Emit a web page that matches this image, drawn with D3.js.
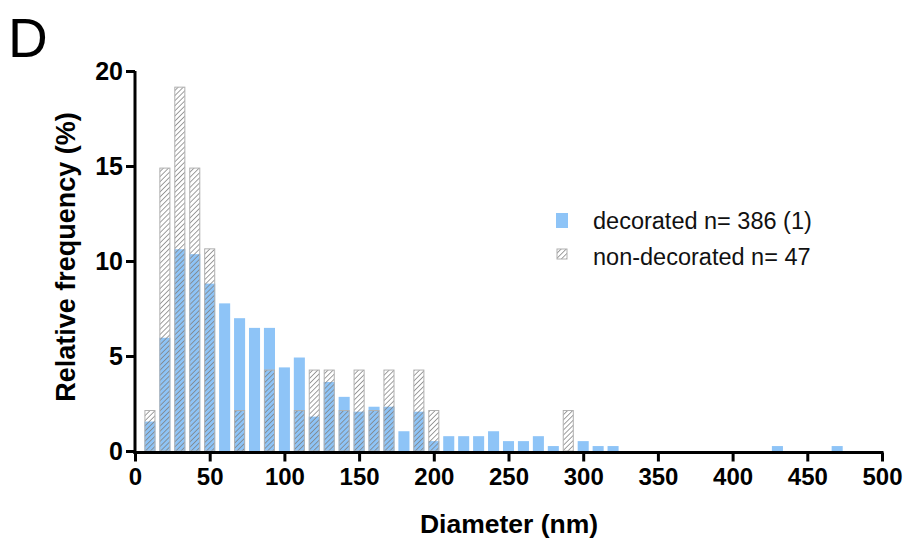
<!DOCTYPE html>
<html>
<head>
<meta charset="utf-8">
<script src="https://cdn.jsdelivr.net/npm/d3@7/dist/d3.min.js"></script>
<style>
  html, body { margin: 0; padding: 0; background: #fff; }
  svg { display: block; }
  text { font-family: "Liberation Sans", Arial, Helvetica, sans-serif; }
</style>
</head>
<body>
<svg id="chart" width="907" height="542"></svg>
<script>
// Histogram bin centres (nm)
const binCenters = d3.range(10, 480, 10);

// Relative frequency (%) per bin, decorated vesicles (n = 386)
const decorated = [
  1.55, 5.96, 10.62, 10.36, 8.81, 7.77, 6.99, 6.48, 6.48, 4.40,
  4.92, 1.81, 3.63, 2.85, 2.07, 2.33, 2.33, 1.04, 2.07, 0.52,
  0.78, 0.78, 0.78, 1.04, 0.52, 0.52, 0.78, 0.26, 0.00, 0.52,
  0.26, 0.26, 0.00, 0.00, 0.00, 0.00, 0.00, 0.00, 0.00, 0.00,
  0.00, 0.00, 0.26, 0.00, 0.00, 0.00, 0.26
];

// Relative frequency (%) per bin, non-decorated vesicles (n = 47)
const nonDecorated = [
  2.13, 14.89, 19.15, 14.89, 10.64, 0.00, 2.13, 0.00, 4.26, 0.00,
  2.13, 4.26, 4.26, 2.13, 4.26, 2.13, 4.26, 0.00, 4.26, 2.13,
  0.00, 0.00, 0.00, 0.00, 0.00, 0.00, 0.00, 0.00, 2.13, 0.00,
  0.00, 0.00, 0.00, 0.00, 0.00, 0.00, 0.00, 0.00, 0.00, 0.00,
  0.00, 0.00, 0.00, 0.00, 0.00, 0.00, 0.00
];

const xTicks = [0, 50, 100, 150, 200, 250, 300, 350, 400, 450, 500];
const yTicks = [0, 5, 10, 15, 20];
const legendLabels = ["decorated n= 386 (1)", "non-decorated n= 47"];

const svg = d3.select("#chart");
const blue = "#8ec4f7";
const hatchColor = "#7e7e7e";

const x = d3.scaleLinear().domain([0, 500]).range([135, 882]);
const y = d3.scaleLinear().domain([0, 20]).range([451, 71]);

// diagonal hatch pattern with transparent background
const defs = svg.append("defs");
const pat = defs.append("pattern")
  .attr("id", "hatch")
  .attr("patternUnits", "userSpaceOnUse")
  .attr("width", 3.6).attr("height", 3.6)
  .attr("patternTransform", "rotate(45)");
pat.append("line")
  .attr("x1", 0).attr("y1", 0).attr("x2", 0).attr("y2", 3.6)
  .attr("stroke", hatchColor).attr("stroke-width", 1.5);

const binW = x(10) - x(0);
const barW = binW * 0.74;

const rows = binCenters.map((c, i) => ({ c, dec: decorated[i], non: nonDecorated[i] }));

// decorated bars
svg.append("g").selectAll("rect")
  .data(rows.filter(d => d.dec > 0))
  .join("rect")
  .attr("x", d => x(d.c) - barW / 2)
  .attr("width", barW)
  .attr("y", d => y(d.dec))
  .attr("height", d => y(0) - y(d.dec))
  .attr("fill", blue);

// non-decorated bars, hatched and drawn over the decorated ones
svg.append("g").selectAll("rect")
  .data(rows.filter(d => d.non > 0))
  .join("rect")
  .attr("x", d => x(d.c) - barW / 2 + 0.5)
  .attr("width", barW - 1)
  .attr("y", d => y(d.non))
  .attr("height", d => y(0) - y(d.non))
  .attr("fill", "url(#hatch)")
  .attr("stroke", "#b0b0b0")
  .attr("stroke-width", 1);

// axes
const xAxis = svg.append("g")
  .attr("transform", `translate(0,${y(0) + 1.5})`)
  .call(d3.axisBottom(x).tickValues(xTicks).tickSize(9).tickSizeOuter(0).tickPadding(6));
const yAxis = svg.append("g")
  .attr("transform", `translate(${x(0)},0)`)
  .call(d3.axisLeft(y).tickValues(yTicks).tickSize(9).tickSizeOuter(0).tickPadding(3));

[xAxis, yAxis].forEach(g => {
  g.select(".domain").attr("stroke", "#000").attr("stroke-width", 3);
  g.selectAll(".tick line").attr("stroke", "#000").attr("stroke-width", 3);
  g.selectAll(".tick text")
    .attr("fill", "#000")
    .style("font-family", "'Liberation Sans', Arial, sans-serif")
    .style("font-weight", "bold");
});
xAxis.selectAll(".tick text").style("font-size", "24px");
yAxis.selectAll(".tick text").style("font-size", "25px");
// extend domain lines to cover the corner
xAxis.select(".domain").attr("d", `M${x(0) - 1.5},0H${x(500) + 1.5}`);
yAxis.select(".domain").attr("d", `M0,${y(20)}V${y(0) + 3}`);

// axis titles
svg.append("text")
  .attr("x", 509).attr("y", 533)
  .attr("text-anchor", "middle")
  .style("font-weight", "bold").style("font-size", "26.5px")
  .text("Diameter (nm)");

svg.append("text")
  .attr("transform", "translate(75,257) rotate(-90)")
  .attr("text-anchor", "middle")
  .style("font-weight", "bold").style("font-size", "27px")
  .text("Relative frequency (%)");

// panel letter
svg.append("text")
  .attr("x", 8).attr("y", 57)
  .style("font-size", "55px")
  .text("D");

// legend
const lg = svg.append("g");
lg.append("rect").attr("x", 556).attr("y", 213).attr("width", 12).attr("height", 15).attr("fill", blue);
lg.append("rect").attr("x", 557).attr("y", 249).attr("width", 10).attr("height", 10)
  .attr("fill", "url(#hatch)").attr("stroke", "#b0b0b0").attr("stroke-width", 1);
lg.selectAll("text.lab")
  .data(legendLabels)
  .join("text")
  .attr("class", "lab")
  .attr("x", 593)
  .attr("y", (d, i) => 229 + i * 36)
  .style("font-size", "23.5px")
  .attr("fill", "#111")
  .text(d => d);
</script>
</body>
</html>
